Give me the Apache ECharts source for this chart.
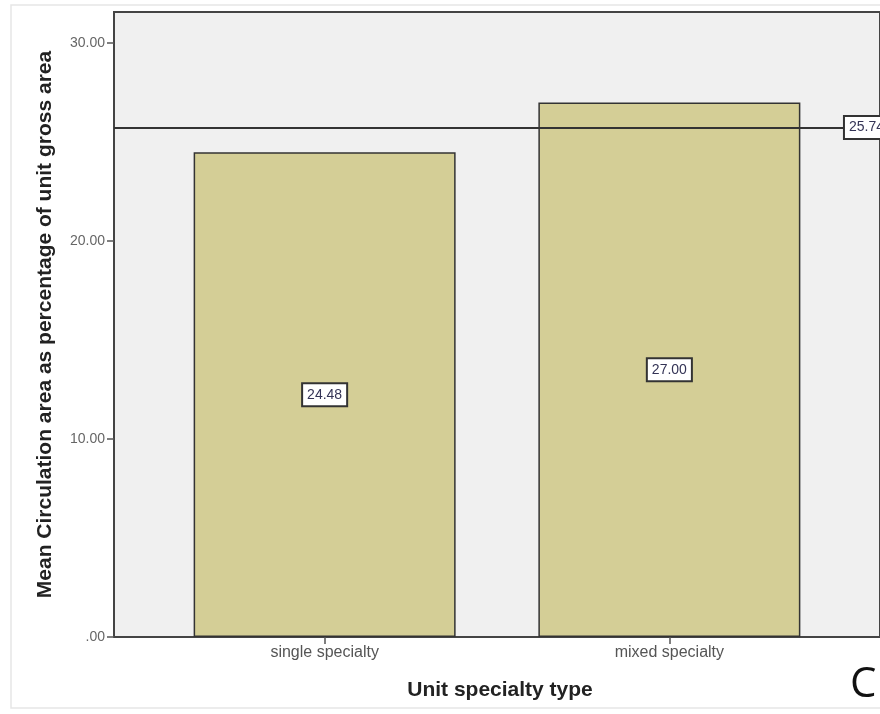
<!DOCTYPE html>
<html>
<head>
<meta charset="utf-8">
<script src="https://cdn.jsdelivr.net/npm/echarts@6/dist/echarts.min.js"></script>
<style>
  html, body { margin: 0; padding: 0; background: #ffffff; }
  #chart { width: 880px; height: 714px; }
</style>
</head>
<body>
<div id="chart"></div>
<script>
const categories = ['single specialty', 'mixed specialty'];
const meanValues = [24.48, 27.00];
const referenceValue = 25.74;
const yTickValues = [0, 10, 20, 30];
const yAxisTitle = 'Mean Circulation area as percentage of unit gross area';
const xAxisTitle = 'Unit specialty type';
const panelLetter = 'C';

const barData = meanValues.map((v, i) => [i, v]);
const catIndices = categories.map((c, i) => i);

const chart = echarts.init(document.getElementById('chart'), null, { renderer: 'canvas' });
const option = {
  backgroundColor: '#ffffff',
  animation: false,
  textStyle: { fontFamily: 'Liberation Sans, Arial, sans-serif' },
  grid: {
    left: 114, top: 12, right: -5, bottom: 77,
    show: true, backgroundColor: '#f0f0f0', borderColor: '#444444', borderWidth: 2
  },
  xAxis: {
    type: 'value',
    min: -0.611, max: 1.611,
    name: xAxisTitle,
    nameLocation: 'middle',
    nameGap: 43,
    nameTextStyle: { fontSize: 21, fontWeight: 'bold', color: '#222', padding: [0, 0, 0, 6] },
    splitLine: { show: false },
    axisLine: { show: true, onZero: false, lineStyle: { color: '#444', width: 2 } },
    axisTick: { show: true, customValues: catIndices, length: 7, lineStyle: { color: '#555', width: 1.5 } },
    axisLabel: {
      customValues: catIndices,
      formatter: v => categories[Math.round(v)] || '',
      fontSize: 16, color: '#555', margin: 8
    }
  },
  yAxis: {
    type: 'value',
    min: 0, max: 31.57,
    name: yAxisTitle,
    nameLocation: 'middle',
    nameGap: 58,
    nameTextStyle: { fontSize: 21, fontWeight: 'bold', color: '#222' },
    splitLine: { show: false },
    axisLine: { show: true, onZero: false, lineStyle: { color: '#444', width: 2 } },
    axisTick: { show: true, customValues: yTickValues, length: 7, lineStyle: { color: '#555', width: 1.5 } },
    axisLabel: {
      customValues: yTickValues,
      formatter: v => v === 0 ? '.00' : v.toFixed(2),
      fontSize: 14, color: '#666', margin: 9
    }
  },
  series: [{
    type: 'bar',
    data: barData,
    barWidth: 262,
    itemStyle: { color: '#d4ce96', borderColor: '#333333', borderWidth: 1.5 },
    label: {
      show: true,
      position: 'inside',
      formatter: p => p.value[1].toFixed(2),
      fontSize: 14, color: '#333355',
      backgroundColor: '#ffffff', borderColor: '#333', borderWidth: 2,
      padding: [4, 4, 3, 4]
    },
    markLine: {
      silent: true,
      symbol: ['none', 'none'],
      lineStyle: { color: '#333', width: 2, type: 'solid' },
      label: {
        show: true,
        position: 'insideEnd',
        distance: -8,
        formatter: () => referenceValue.toFixed(2),
        fontSize: 14, color: '#333355',
        backgroundColor: '#ffffff', borderColor: '#333', borderWidth: 2,
        padding: [4, 4, 3, 4]
      },
      data: [{ yAxis: referenceValue }]
    }
  }],
  graphic: [
    {
      type: 'rect', silent: true, z: -1,
      shape: { x: 11, y: 5, width: 880, height: 703 },
      style: { fill: null, stroke: '#e6e6e6', lineWidth: 1.5 }
    },
    {
      type: 'text', left: 850, top: 664,
      style: { text: panelLetter, fontSize: 42, fontFamily: 'Open Sans, sans-serif', fill: '#111' }
    }
  ]
};
chart.setOption(option);
</script>
</body>
</html>
